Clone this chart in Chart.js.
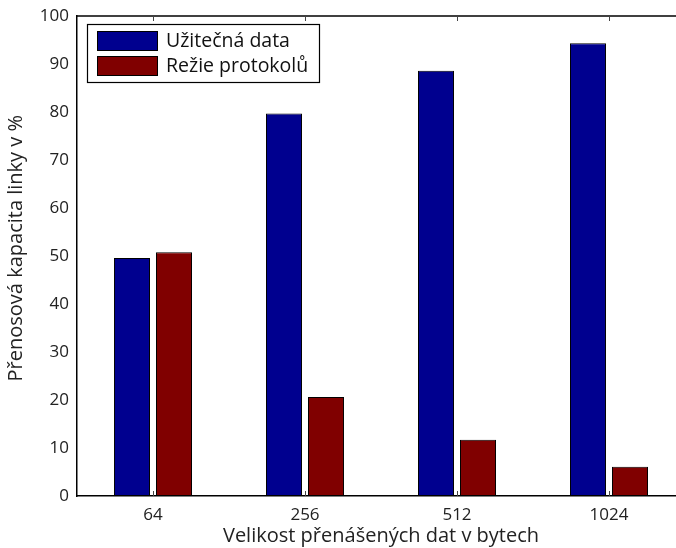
<!DOCTYPE html>
<html>
<head>
<meta charset="utf-8">
<script src="https://cdn.jsdelivr.net/npm/chart.js@4"></script>
<style>
  html, body { margin: 0; padding: 0; background: #fff; overflow: hidden; }
  #wrap { position: absolute; left: 0; top: 0; width: 690px; height: 548px; }
</style>
</head>
<body>
<div id="wrap"><canvas id="chart" width="690" height="548"></canvas></div>
<script>
// Data
const categories = ['64', '256', '512', '1024'];
const usefulData = [49.6, 79.7, 88.6, 94.3];
const overhead = [50.8, 20.6, 11.7, 6.1];
const seriesNames = ['Užitečná data', 'Režie protokolů'];
const seriesColors = ['#00008f', '#800000'];

const FONT = '"Open Sans", "DejaVu Sans", sans-serif';

// draws the frame line on top and the small inward tick marks
const frameTicks = {
    id: 'frameTicks',
    afterDatasetsDraw(chart) {
        const ctx = chart.ctx;
        const area = chart.chartArea;
        const x = chart.scales.x;
        ctx.save();
        ctx.strokeStyle = '#000';
        ctx.lineWidth = 1.5;
        ctx.beginPath();
        ctx.moveTo(area.left, area.top);
        ctx.lineTo(area.right, area.top);
        ctx.stroke();
        ctx.lineWidth = 1;
        ctx.strokeStyle = '#444';
        categories.forEach((c, i) => {
            const px = Math.round(x.getPixelForValue(i)) + 0.5;
            ctx.beginPath();
            ctx.moveTo(px, area.top);
            ctx.lineTo(px, area.top + 5);
            ctx.moveTo(px, area.bottom);
            ctx.lineTo(px, area.bottom - 5);
            ctx.stroke();
        });
        ctx.restore();
    }
};

// legend box in the top left corner, as in the original
const boxLegend = {
    id: 'boxLegend',
    afterDraw(chart) {
        const ctx = chart.ctx;
        const bx = 87, by = 24, bw = 232, bh = 58;
        ctx.save();
        ctx.fillStyle = '#fff';
        ctx.fillRect(bx, by, bw, bh);
        ctx.strokeStyle = '#000';
        ctx.lineWidth = 1.2;
        ctx.strokeRect(bx + 0.5, by + 0.5, bw, bh);
        ctx.font = '19.5px ' + FONT;
        ctx.textBaseline = 'middle';
        chart.data.datasets.forEach((ds, i) => {
            const sy = 31 + i * 25;
            ctx.fillStyle = ds.backgroundColor;
            ctx.fillRect(97, sy, 60, 19);
            ctx.strokeStyle = '#000';
            ctx.lineWidth = 1;
            ctx.strokeRect(97.5, sy + 0.5, 60, 19);
            ctx.fillStyle = '#111';
            ctx.fillText(ds.label, 166, sy + 10);
        });
        ctx.restore();
    }
};

new Chart(document.getElementById('chart'), {
    type: 'bar',
    data: {
        labels: categories,
        datasets: [{
            label: seriesNames[0],
            data: usefulData,
            backgroundColor: seriesColors[0],
            borderColor: '#000',
            borderWidth: 1,
            borderSkipped: false
        }, {
            label: seriesNames[1],
            data: overhead,
            backgroundColor: seriesColors[1],
            borderColor: '#000',
            borderWidth: 1,
            borderSkipped: false
        }]
    },
    options: {
        responsive: false,
        animation: false,
        layout: { padding: { top: 16, right: 5, left: 0, bottom: 0 } },
        datasets: {
            bar: { categoryPercentage: 0.553, barPercentage: 0.857 }
        },
        plugins: {
            legend: { display: false },
            tooltip: { enabled: false },
            title: { display: false }
        },
        scales: {
            x: {
                grid: { display: false },
                border: { color: '#000', width: 1.5 },
                ticks: { color: '#222', font: { family: FONT, size: 17 }, padding: 1 },
                title: {
                    display: true,
                    text: 'Velikost přenášených dat v bytech',
                    color: '#222',
                    font: { family: FONT, size: 20 },
                    padding: 0
                },
                afterFit(scale) { scale.height = 52; }
            },
            y: {
                min: 0,
                max: 100,
                grid: { display: false },
                border: { color: '#000', width: 1.5 },
                ticks: { stepSize: 10, color: '#222', font: { family: FONT, size: 17 }, padding: 0 },
                title: {
                    display: true,
                    text: '   Přenosová kapacita linky v %',
                    color: '#222',
                    font: { family: FONT, size: 20 },
                    padding: 4
                },
                afterFit(scale) { scale.width = 77; }
            }
        }
    },
    plugins: [frameTicks, boxLegend]
});
</script>
</body>
</html>
